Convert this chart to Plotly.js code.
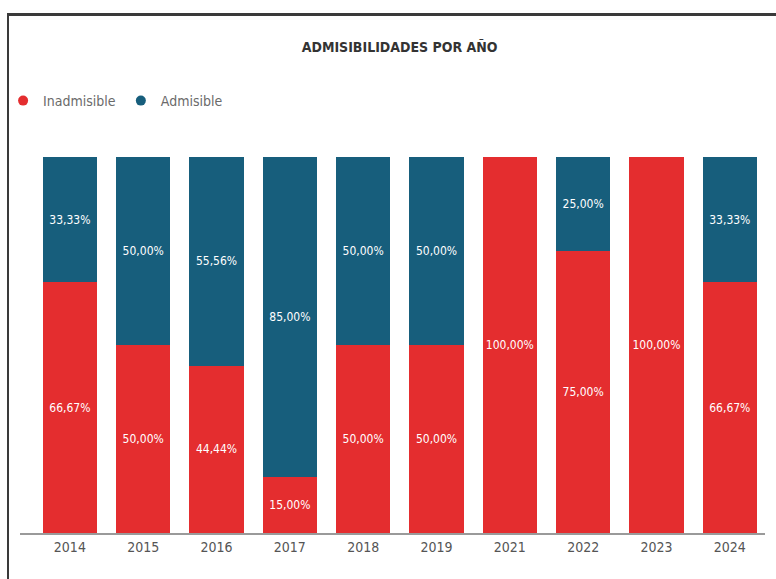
<!DOCTYPE html>
<html>
<head>
<meta charset="utf-8">
<script src="https://cdn.plot.ly/plotly-3.0.1.min.js"></script>
<style>
  html, body { margin: 0; padding: 0; background: #fff; }
  #wrap { position: relative; width: 776px; height: 579px; }
  #chart { position: absolute; left: 0; top: 0; width: 776px; height: 579px; }
  #frame { position: absolute; left: 7px; top: 13px; width: 769px; height: 566px;
           border-top: 3px solid #3a3a3a; border-left: 2px solid #3a3a3a;
           box-sizing: border-box; pointer-events: none; }
</style>
</head>
<body>
<div id="wrap">
  <div id="chart"></div>
  <div id="frame"></div>
</div>
<script>
// data
var years = ["2014", "2015", "2016", "2017", "2018", "2019", "2021", "2022", "2023", "2024"];
var inadmisible = [66.67, 50.00, 44.44, 15.00, 50.00, 50.00, 100.00, 75.00, 100.00, 66.67];
var admisible = [33.33, 50.00, 55.56, 85.00, 50.00, 50.00, 0, 25.00, 0, 33.33];

var RED = "#e42d2f";
var BLUE = "#175e7c";
var FONT = "DejaVu Sans Condensed, Liberation Sans Narrow, Roboto, sans-serif";

function pctLabels(vals) {
    return vals.map(function (v) {
        return v > 0 ? v.toFixed(2).replace(".", ",") + "%" : "";
    });
}

var barStyle = {
    type: "bar",
    textposition: "inside",
    insidetextanchor: "middle",
    textangle: 0,
    constraintext: "none",
    textfont: { family: FONT, size: 12, color: "#ffffff" },
    hoverinfo: "skip",
    showlegend: false,
};

var trInad = Object.assign({}, barStyle, {
    name: "Inadmisible",
    x: years,
    y: inadmisible,
    text: pctLabels(inadmisible),
    marker: { color: RED },
});
var trAdm = Object.assign({}, barStyle, {
    name: "Admisible",
    x: years,
    y: admisible,
    text: pctLabels(admisible),
    marker: { color: BLUE },
});

// legend entries with round markers
var legInad = { type: "scatter", mode: "markers", x: [null], y: [null], name: "Inadmisible",
    marker: { color: RED, size: 10, symbol: "circle" } };
var legAdm = { type: "scatter", mode: "markers", x: [null], y: [null], name: "Admisible",
    marker: { color: BLUE, size: 10, symbol: "circle" } };

var layout = {
    width: 776,
    height: 579,
    barmode: "stack",
    bargap: 0.26,
    margin: { l: 20, r: 11, t: 157, b: 46 },
    paper_bgcolor: "rgba(0,0,0,0)",
    plot_bgcolor: "rgba(0,0,0,0)",
    font: { family: FONT, color: "#555555" },
    title: {
        text: "<b>ADMISIBILIDADES POR AÑO</b>",
        font: { family: FONT, size: 14, color: "#333333" },
        x: 0.515, xref: "container", xanchor: "center",
        y: 0.919, yref: "container", yanchor: "middle",
    },
    legend: {
        orientation: "h",
        traceorder: "normal",
        xref: "container", x: 0.004, xanchor: "left",
        yref: "container", y: 1 - 101 / 579, yanchor: "middle",
        font: { family: FONT, size: 14, color: "#6a6a6a" },
        itemwidth: 30,
        tracegroupgap: 0,
    },
    xaxis: {
        type: "category",
        range: [-0.68, 9.48],
        showline: true,
        linecolor: "#9a9a9a",
        linewidth: 2,
        showgrid: false,
        ticks: "",
        tickfont: { family: FONT, size: 14, color: "#555555" },
    },
    yaxis: {
        range: [0, 100],
        visible: false,
        showgrid: false,
        zeroline: false,
    },
};

Plotly.newPlot("chart", [trInad, trAdm, legInad, legAdm], layout, {
    displayModeBar: false,
    staticPlot: true,
});
</script>
</body>
</html>
